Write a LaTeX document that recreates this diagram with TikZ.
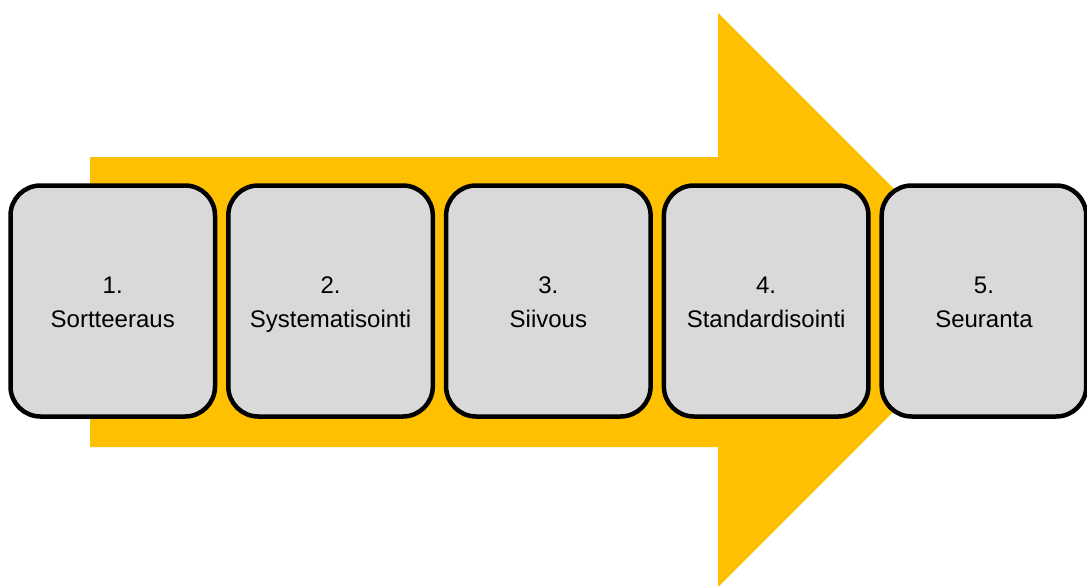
\documentclass[tikz,border=0pt]{standalone}
\usepackage{fontspec}
\setmainfont{Liberation Sans}
\definecolor{arrowgold}{HTML}{FFC000}
\definecolor{stepgray}{HTML}{D9D9D9}
% fixed line height so every label sits at the same baselines
\newcommand{\linestrut}{\rule[-8pt]{0pt}{34pt}}
\begin{document}
\begin{tikzpicture}[x=1pt,y=-1pt,
  phasebox/.style={draw=black, fill=stepgray, line width=4.5pt,
    rounded corners=30pt, minimum width=204.5pt, minimum height=231pt,
    inner sep=0pt, align=center,
    font=\fontsize{24}{34}\selectfont}]
  \useasboundingbox (0,0) rectangle (1087,586);
  % big process arrow behind the steps
  \fill[arrowgold] (90,157) -- (718,157) -- (718,13) -- (1005,300)
    -- (718,587) -- (718,447) -- (90,447) -- cycle;
  % the five steps
  \node[phasebox] (s1) at (112.75,301) {\linestrut 1.\\\linestrut Sortteeraus};
  \node[phasebox] (s2) at (330.55,301) {\linestrut 2.\\\linestrut Systematisointi};
  \node[phasebox] (s3) at (548.35,301) {\linestrut 3.\\\linestrut Siivous};
  \node[phasebox] (s4) at (766.15,301) {\linestrut 4.\\\linestrut Standardisointi};
  \node[phasebox] (s5) at (983.95,301) {\linestrut 5.\\\linestrut Seuranta};
\end{tikzpicture}
\end{document}
